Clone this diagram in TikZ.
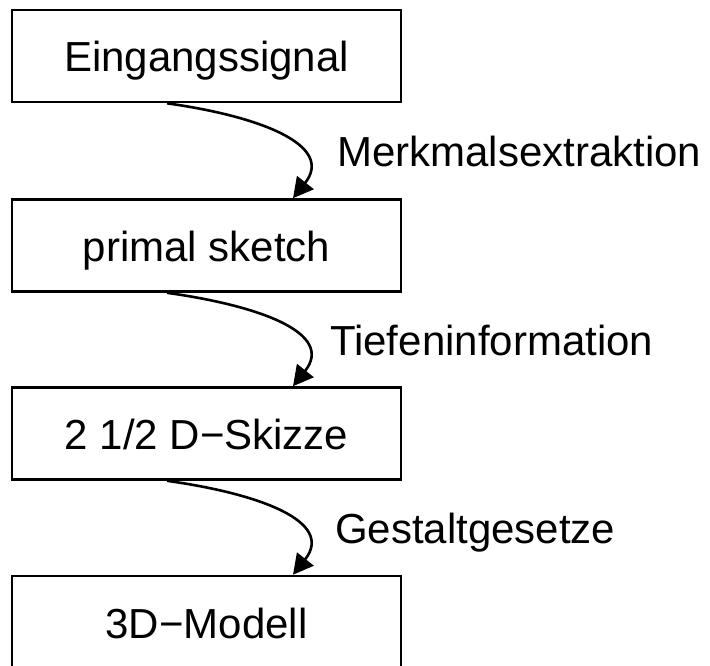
\documentclass[tikz,border=0pt]{standalone}
\usepackage{fontspec}
\setmainfont{Liberation Sans}
\usetikzlibrary{arrows.meta}

\begin{document}
\begin{tikzpicture}[x=1pt, y=-1pt,
    stage/.style={draw, line width=2.6pt, minimum width=389pt, minimum height=92pt,
      inner sep=0pt, text height=32pt, text depth=0pt, font=\fontsize{42}{48}\selectfont},
    lbl/.style={anchor=base west, inner sep=0pt, font=\fontsize{42}{48}\selectfont},
    flow/.style={line width=2.6pt, -{Triangle[length=20pt, width=21pt]}}]
  % Canvas
  \useasboundingbox (0,0) rectangle (710,666);

  % Stages
  \node[stage] (eingang) at (206.5, 56) {Eingangssignal};
  \node[stage] (primal) at (206.5, 245.5) {primal sketch};
  \node[stage] (skizze) at (206.5, 433.5) {2 1/2 D−Skizze};
  \node[stage] (modell) at (206.5, 622) {3D−Modell};

  % Transitions
  \draw[flow] ([xshift=-39.5pt]eingang.south) .. controls +(93,13) and +(42,-53) .. ([xshift=86.5pt]primal.north);
  \draw[flow] ([xshift=-39.5pt]primal.south) .. controls +(93,13) and +(42,-53) .. ([xshift=86.5pt]skizze.north);
  \draw[flow] ([xshift=-39.5pt]skizze.south) .. controls +(93,13) and +(42,-53) .. ([xshift=86.5pt]modell.north);

  % Labels
  \node[lbl] (merkmal) at (337, 167) {Merkmalsextraktion};
  \node[lbl] (tiefe) at (330, 355) {Tiefeninformation};
  \node[lbl] (gestalt) at (335, 543) {Gestaltgesetze};
\end{tikzpicture}
\end{document}
